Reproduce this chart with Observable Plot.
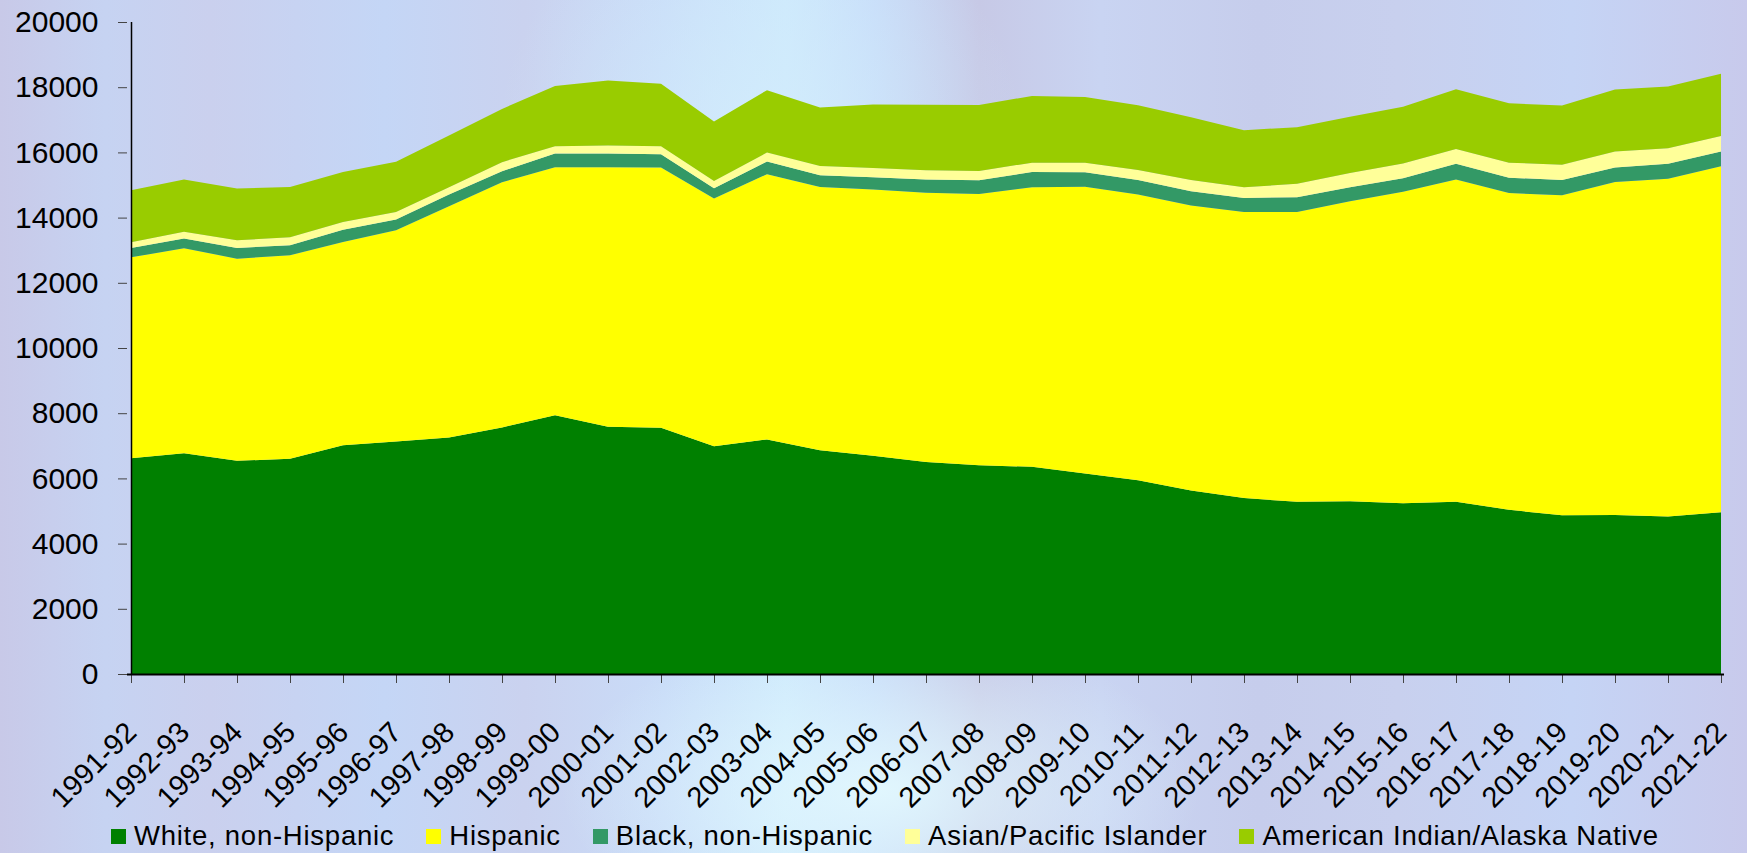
<!DOCTYPE html>
<html>
<head>
<meta charset="utf-8">
<script src="https://cdn.jsdelivr.net/npm/d3@7"></script>
<script src="https://cdn.jsdelivr.net/npm/@observablehq/plot@0.6"></script>
<style>
  html, body { margin: 0; padding: 0; }
  body {
    width: 1747px; height: 853px; overflow: hidden; position: relative;
    font-family: "Liberation Sans", Arial, sans-serif;
    background:
      radial-gradient(ellipse 320px 160px at 880px 790px, rgba(226,248,254,0.95), rgba(226,248,254,0)),
      radial-gradient(ellipse 260px 220px at 760px 120px, rgba(210,236,252,0.8), rgba(210,236,252,0)),
      linear-gradient(90deg, #c8c9e8 0%, #c6d3f2 6%, #cad0ee 12%, #c4d6f6 22%, #cad2ef 30%, #c9dcf8 38%, #cde9fc 45%, #c7dcf9 50%, #c7c9e6 56%, #c9d4f2 63%, #c6cdec 72%, #c8d0ee 80%, #c5d4f5 90%, #c8caec 100%);
  }
  #chart { position: absolute; left: 0; top: 0; }
  #legend {
    position: absolute; left: 111px; top: 815px; height: 42px;
    display: flex; align-items: center; gap: 32px;
    font-size: 27.5px; letter-spacing: 0.75px; color: #000;
  }
  .item { display: flex; align-items: center; white-space: nowrap; }
  .sw { width: 15px; height: 15px; margin-right: 8px; flex: none; }
</style>
</head>
<body>
<div id="chart"></div>
<div id="legend"></div>
<script>
const years = ["1991-92","1992-93","1993-94","1994-95","1995-96","1996-97","1997-98","1998-99","1999-00","2000-01","2001-02","2002-03","2003-04","2004-05","2005-06","2006-07","2007-08","2008-09","2009-10","2010-11","2011-12","2012-13","2013-14","2014-15","2015-16","2016-17","2017-18","2018-19","2019-20","2020-21","2021-22"];

const seriesNames = ["White, non-Hispanic", "Hispanic", "Black, non-Hispanic", "Asian/Pacific Islander", "American Indian/Alaska Native"];
const seriesColors = ["#008000", "#FFFF00", "#339966", "#FFFF99", "#99CC00"];

const white    = [6620, 6775, 6540, 6600, 7020, 7130, 7255, 7565, 7940, 7585, 7550, 6990, 7195, 6865, 6695, 6500, 6405, 6355, 6150, 5945, 5630, 5395, 5280, 5300, 5240, 5280, 5035, 4870, 4880, 4830, 4965];
const hispanic = [6160, 6285, 6200, 6245, 6230, 6480, 7090, 7520, 7605, 7960, 7985, 7595, 8135, 8075, 8165, 8260, 8320, 8575, 8800, 8760, 8740, 8780, 8895, 9200, 9550, 9885, 9720, 9815, 10215, 10365, 10610];
const black    = [290, 300, 330, 310, 380, 330, 360, 340, 420, 420, 410, 315, 390, 360, 380, 410, 420, 470, 440, 450, 440, 430, 450, 430, 420, 490, 470, 470, 440, 460, 450];
const asian    = [175, 205, 235, 245, 235, 235, 225, 275, 225, 245, 245, 225, 275, 280, 285, 285, 285, 285, 295, 305, 345, 325, 410, 440, 450, 450, 460, 470, 490, 470, 480];
const aian     = [1595, 1605, 1585, 1535, 1535, 1535, 1585, 1635, 1850, 1995, 1915, 1820, 1915, 1800, 1945, 2005, 2025, 2045, 2015, 1985, 1925, 1750, 1740, 1720, 1740, 1830, 1820, 1810, 1905, 1895, 1905];

const yTicks = [0, 2000, 4000, 6000, 8000, 10000, 12000, 14000, 16000, 18000, 20000];

const seriesValues = [white, hispanic, black, asian, aian];
const data = [];
seriesNames.forEach((name, s) => {
  years.forEach((yr, i) => data.push({year: yr, series: name, value: seriesValues[s][i]}));
});

const chart = Plot.plot({
  width: 1747,
  height: 812,
  marginLeft: 127,
  marginRight: 23,
  marginTop: 22,
  marginBottom: 138,
  style: {fontFamily: '"Liberation Sans", Arial, sans-serif', fontSize: "29px", color: "#000", background: "transparent", overflow: "visible"},
  x: {type: "point", domain: years, padding: 0, label: null},
  y: {domain: [0, 20000], label: null},
  color: {domain: seriesNames, range: seriesColors},
  marks: [
    Plot.areaY(data, {x: "year", y: "value", z: "series", fill: "series", order: seriesNames, curve: "linear"}),
    Plot.axisY(yTicks, {tickSize: 9, tickPadding: 20, tickFormat: d3.format("d"), stroke: "#444", fontSize: 30, label: null}),
    Plot.axisX(years, {tickSize: 9, tickPadding: 44, tickRotate: -45, stroke: "#444", fontSize: 29, label: null}),
    Plot.ruleX([years[0]], {y1: 0, y2: 20000, stroke: "#000", strokeWidth: 1.5}),
    Plot.ruleY([0], {stroke: "#000", strokeWidth: 2})
  ]
});
document.getElementById("chart").appendChild(chart);

const legend = document.getElementById("legend");
seriesNames.forEach((name, s) => {
  const item = document.createElement("div");
  item.className = "item";
  const sw = document.createElement("span");
  sw.className = "sw";
  sw.style.background = seriesColors[s];
  const label = document.createElement("span");
  label.textContent = name;
  item.appendChild(sw);
  item.appendChild(label);
  legend.appendChild(item);
});
</script>
</body>
</html>
